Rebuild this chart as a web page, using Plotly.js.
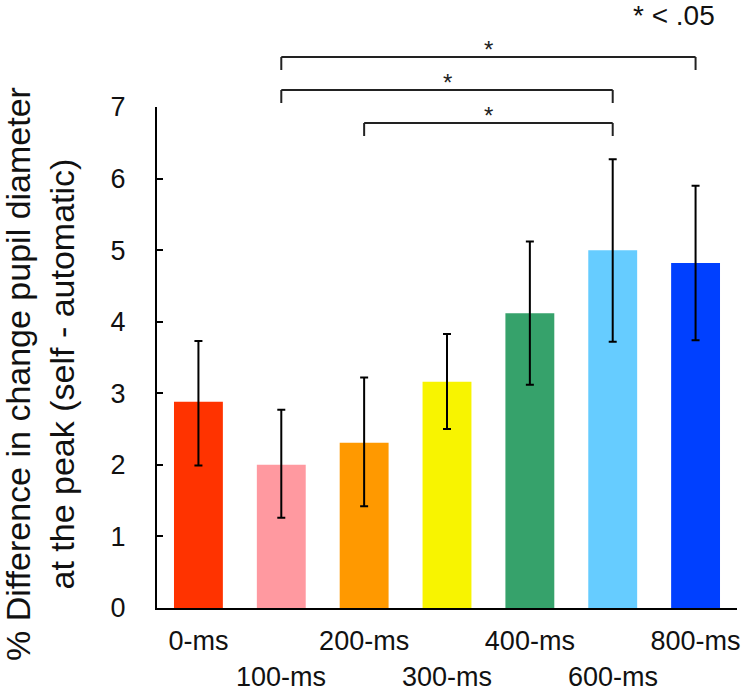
<!DOCTYPE html>
<html><head><meta charset="utf-8">
<script src="https://cdn.plot.ly/plotly-3.0.1.min.js"></script>
<style>html,body{margin:0;padding:0;background:#fff}</style>
</head><body><div id="chart" style="width:754px;height:691px"></div>
<script>
// ---- data ----
const categories = ['0-ms','100-ms','200-ms','300-ms','400-ms','600-ms','800-ms'];
const means = [2.88, 2.00, 2.31, 3.16, 4.12, 5.00, 4.82];
const errPlus = [0.85, 0.77, 0.91, 0.67, 1.00, 1.27, 1.08];
const errMinus = [0.89, 0.74, 0.89, 0.66, 1.00, 1.28, 1.08];
const barColors = ['#FF3300','#FF99A0','#FF9900','#F8F400','#36A26B','#66CCFF','#0040FF'];
const yTicks = [0,1,2,3,4,5,6,7];
const comparisons = [[1,6],[1,5],[2,5]];
const sigLabel = '*';
const noteText = '* < .05';
const yTitle = '% Difference in change pupil diameter<br>at the peak (self - automatic)';

// ---- layout helpers ----
const W = 754, H = 691;
const M = {l:157, r:17, t:107, b:83};
const plotW = W - M.l - M.r;
const plotH = H - M.t - M.b;
const pxToPaperY = py => (H - M.b - py) / plotH;
const pxToPaperX = px => (px - M.l) / plotW;
const FONT = 'Liberation Sans, Arial, sans-serif';

const row1 = categories.filter((c,i) => i % 2 === 0);
const row2 = categories.filter((c,i) => i % 2 === 1);

const trace = {
  type:'bar', x: categories, y: means,
  marker:{color: barColors, line:{width:0}},
  error_y:{type:'data', symmetric:false, array: errPlus, arrayminus: errMinus,
           color:'#000', thickness:2, width:4},
  hoverinfo:'skip'
};

const shapes = [], annotations = [];
comparisons.forEach((pair, k) => {
  const yLine = pxToPaperY(57 + 33*k);
  const yDrop = pxToPaperY(70 + 33*k);
  const a = categories[pair[0]], b = categories[pair[1]];
  const ln = {color:'#222', width:2};
  shapes.push({type:'line', xref:'x', yref:'paper', x0:a, x1:a, y0:yDrop, y1:yLine, line:ln});
  shapes.push({type:'line', xref:'x', yref:'paper', x0:a, x1:b, y0:yLine, y1:yLine, line:ln});
  shapes.push({type:'line', xref:'x', yref:'paper', x0:b, x1:b, y0:yLine, y1:yDrop, line:ln});
  annotations.push({xref:'x', yref:'paper', x:(pair[0]+pair[1])/2, y:yLine,
    yanchor:'bottom', yshift:-8, text:sigLabel, showarrow:false,
    font:{family:FONT, size:24, color:'#222'}});
});
// staggered second row of category labels
row2.forEach(c => {
  annotations.push({xref:'x', yref:'paper', x:c, y:pxToPaperY(677), yanchor:'middle',
    text:c, showarrow:false, font:{family:FONT, size:27, color:'#111'}});
});
// y axis title
annotations.push({xref:'paper', yref:'paper', x:pxToPaperX(40), y:pxToPaperY(374),
  xanchor:'center', yanchor:'middle', textangle:-90, text:yTitle, showarrow:false,
  font:{family:FONT, size:34, color:'#111'}});
// significance note
annotations.push({xref:'paper', yref:'paper', x:pxToPaperX(717), y:pxToPaperY(15),
  xanchor:'right', yanchor:'middle', text:noteText, showarrow:false,
  font:{family:FONT, size:28, color:'#111'}});

const layout = {
  width:W, height:H, margin:M,
  paper_bgcolor:'#fff', plot_bgcolor:'#fff',
  showlegend:false,
  bargap:0.41,
  font:{family:FONT, color:'#111'},
  xaxis:{type:'category', range:[-0.5,6.5], categoryarray:categories, tickvals:row1, ticktext:row1,
    ticks:'', showgrid:false, zeroline:false, showline:true, linecolor:'#000', linewidth:2,
    tickfont:{family:FONT, size:27, color:'#111'}, ticklabelstandoff:8, fixedrange:true},
  yaxis:{range:[0,7], tickvals:yTicks, ticks:'inside', ticklen:6, tickwidth:2, tickcolor:'#000',
    showline:true, linecolor:'#000', linewidth:2, showgrid:false, zeroline:false,
    tickfont:{family:FONT, size:27, color:'#111'}, ticklabelstandoff:24, fixedrange:true},
  shapes:shapes, annotations:annotations
};
Plotly.newPlot('chart', [trace], layout, {displayModeBar:false, staticPlot:true});
</script></body></html>
